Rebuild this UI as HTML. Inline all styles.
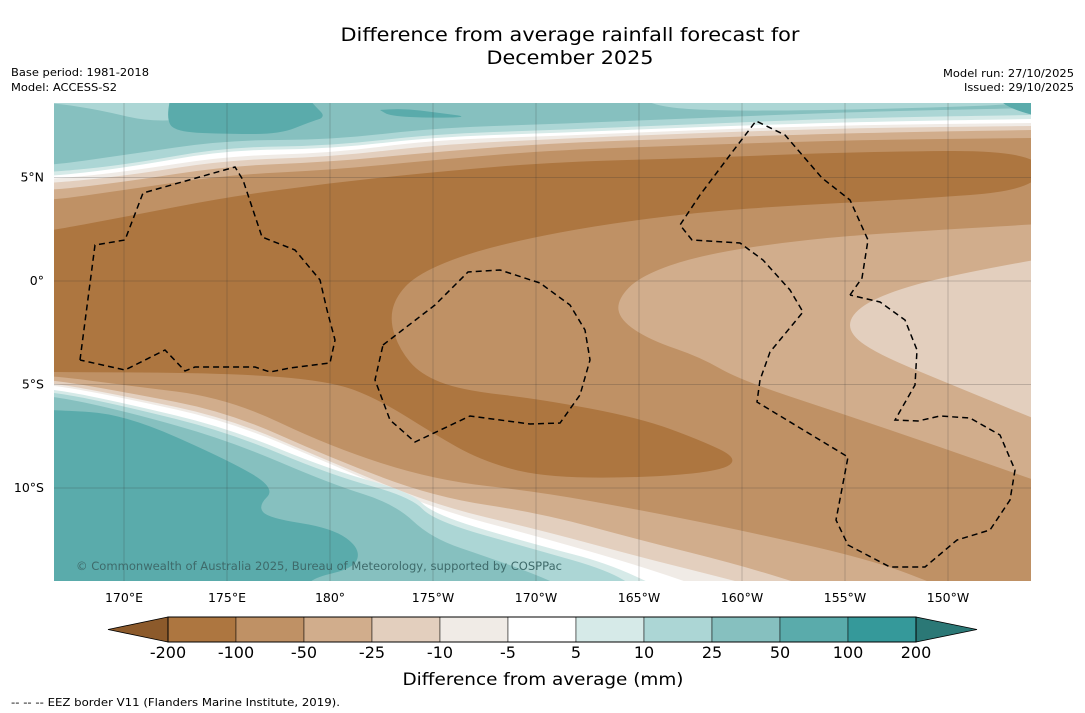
<!DOCTYPE html>
<html><head><meta charset="utf-8"><style>
html,body{margin:0;padding:0;background:#fff;}
body{width:1085px;height:713px;position:relative;overflow:hidden;font-family:"DejaVu Sans","Liberation Sans",sans-serif;}
svg text{font-family:"DejaVu Sans","Liberation Sans",sans-serif;}
</style></head><body>
<svg id="chart" width="1085" height="713" viewBox="0 0 1085 713" xmlns="http://www.w3.org/2000/svg" style="position:absolute;left:0;top:0">
<text x="570" y="41" font-size="19" text-anchor="middle" textLength="459" lengthAdjust="spacingAndGlyphs">Difference from average rainfall forecast for</text>
<text x="570" y="64" font-size="19" text-anchor="middle" textLength="167" lengthAdjust="spacingAndGlyphs">December 2025</text>
<text x="11" y="76" font-size="11" textLength="138" lengthAdjust="spacingAndGlyphs">Base period: 1981-2018</text>
<text x="11" y="91" font-size="11" textLength="106" lengthAdjust="spacingAndGlyphs">Model: ACCESS-S2</text>
<text x="1074" y="77" font-size="11" text-anchor="end" textLength="131" lengthAdjust="spacingAndGlyphs">Model run: 27/10/2025</text>
<text x="1074" y="91" font-size="11" text-anchor="end" textLength="110" lengthAdjust="spacingAndGlyphs">Issued: 29/10/2025</text>
<defs><clipPath id="mapclip"><rect x="54" y="103" width="977" height="478"/></clipPath></defs>
<g id="map" clip-path="url(#mapclip)"></g>
<g id="axes"></g>
<g id="cbar"></g>
<text x="543" y="685" font-size="17" text-anchor="middle" textLength="281" lengthAdjust="spacingAndGlyphs">Difference from average (mm)</text>
<text x="11" y="706" font-size="11" textLength="329" lengthAdjust="spacingAndGlyphs">--  --  -- EEZ border V11 (Flanders Marine Institute, 2019).</text>
</svg>
<script>
// colorbar data
const levelLabels = ["-200","-100","-50","-25","-10","-5","5","10","25","50","100","200"];
const levelColors = ["#ad7640","#bf9165","#d1ad8c","#e3cfbe","#f0ebe6","#ffffff","#d6eae8","#acd6d5","#86c0bf","#5aabab","#35999a"];
const extLow = "#8c5a2b", extHigh = "#2b7876";
// axes data
const lonTicks = [170,175,180,185,190,195,200,205,210];
const lonLabels = ["170°E","175°E","180°","175°W","170°W","165°W","160°W","155°W","150°W"];
const latTicks = [5,0,-5,-10];
const latLabels = ["5°N","0°","5°S","10°S"];

const NS="http://www.w3.org/2000/svg";
const X0=54,X1=1031,Y0=103,Y1=581;
function lonToX(l){return 124+(l-170)*20.6;}
function latToY(l){return 281-l*20.7;}
function mk(tag,attrs,parent){const e=document.createElementNS(NS,tag);for(const k in attrs)e.setAttribute(k,attrs[k]);parent.appendChild(e);return e;}
function smooth(pts){let d="M"+pts[0][0]+","+pts[0][1];for(let i=1;i<pts.length-1;i++){const mx=(pts[i][0]+pts[i+1][0])/2,my=(pts[i][1]+pts[i+1][1])/2;d+=" Q"+pts[i][0]+","+pts[i][1]+" "+mx+","+my;}const l=pts[pts.length-1];d+=" L"+l[0]+","+l[1];return d;}
const map=document.getElementById('map');
const xs=[54,124,227,331,434,554,700,850,1031];
function north(ys){return xs.map((x,i)=>[x,ys[i]]);}
function fillPath(d,color,name){const p=mk('path',{d:d,fill:color},map);return p;}
const base=mk('rect',{x:X0,y:Y0,width:977,height:478,fill:levelColors[1]},map);


const dark=[[40,232],[54,230],[124,217],[227,197],[331,183],[434,172],[554,162],[700,158],[850,152],[1040,150],[1040,190],[900,200],[800,205],[700,212],[600,225],[520,240],[460,256],[415,276],[395,298],[390,322],[400,350],[420,374],[460,390],[540,399],[640,418],[700,440],[738,458],[722,471],[640,478],[540,477],[480,460],[434,434],[380,400],[331,381],[228,373],[54,372],[40,372]];
fillPath(smooth(dark)+"Z",levelColors[0],'band-minus200-minus100');
const northBands=[
 [[200,190,175,170,160,150,145,140,138],levelColors[2]],
 [[190,182,166,162,152,143,138,133,130],levelColors[3]],
 [[183,176,160,157,145,139,133,128,126],levelColors[4]],
 [[179,172,156,153,140,136,130,125,123],levelColors[5]],
 [[176,168,150,149,137,133,127,122,119],levelColors[6]],
 [[172,165,147,146,134,130,124,118,115],levelColors[7]],
 [[165,155,140,140,128,124,118,112,108],levelColors[8]]];
northBands.forEach((b,i)=>{const pts=north(b[0]);pts.unshift([40,b[0][0]]);pts.push([1040,b[0][8]]);fillPath(smooth(pts)+" L1040,90 L40,90Z",b[1],'north-band-'+i);});
fillPath(smooth([[40,103],[54,103],[100,110],[150,122],[200,118],[245,106],[250,95],[40,95]])+"Z",levelColors[7],'north-light-strip-west');
fillPath(smooth([[640,95],[645,104],[700,111],[850,110],[1040,104],[1040,95]])+"Z",levelColors[7],'north-light-strip-east');
fillPath(smooth([[170,100],[166,118],[175,132],[230,134],[280,134],[310,122],[326,117],[315,106],[310,100]])+"Z",levelColors[9],'teal-blob-north');
fillPath(smooth([[380,110],[400,108],[440,113],[470,117],[430,118],[390,116],[380,110]])+"Z",levelColors[9],'teal-blob-small');
fillPath(smooth([[1000,100],[1005,106],[1031,115],[1040,115],[1040,100]])+"Z",levelColors[9],'teal-blob-east');
fillPath(smooth([[1040,224],[900,232],[800,240],[700,255],[640,276],[617,300],[620,320],[650,340],[700,357],[740,380],[840,413],[940,447],[1040,482]])+"Z",levelColors[2],'lobe-minus50-minus25');
fillPath(smooth([[1040,259],[950,275],[880,295],[850,315],[850,335],[880,355],[940,380],[1040,421]])+"Z",levelColors[3],'lobe-minus25-minus10');
const southBands=[
 [[[40,376],[54,376],[124,385],[228,398],[331,447],[434,480],[540,492],[640,510],[740,530],[873,560],[950,590]],levelColors[2]],
 [[[40,380],[54,380],[124,392],[228,412],[331,458],[434,497],[540,513],[640,540],[740,565],[820,590]],levelColors[3]],
 [[[40,383],[54,383],[124,396],[228,418],[331,462],[434,505],[540,530],[640,557],[700,572],[770,590]],levelColors[4]],
 [[[40,385],[54,385],[124,398],[228,421],[331,464],[434,509],[540,537],[640,566],[710,590]],levelColors[5]],
 [[[40,389],[54,389],[124,403],[228,428],[331,470],[411,492],[434,515],[537,545],[607,563],[665,590]],levelColors[6]],
 [[[40,392],[54,392],[124,406],[228,432],[331,475],[411,497],[434,521],[537,550],[607,570],[640,590]],levelColors[7]],
 [[[40,396],[54,396],[124,411],[228,440],[331,484],[395,504],[431,538],[490,558],[537,575],[570,590]],levelColors[8]],
 [[[40,410],[54,410],[124,414],[228,460],[276,488],[258,506],[268,518],[332,528],[360,548],[355,568],[312,578],[305,590]],levelColors[9]]];
southBands.forEach((b,i)=>{fillPath(smooth(b[0])+" L40,590Z",b[1],'south-band-'+i);});
lonTicks.forEach(l=>{const g=mk('line',{x1:lonToX(l),x2:lonToX(l),y1:Y0,y2:Y1,stroke:'#333','stroke-width':0.5,'stroke-opacity':0.45},map);

});
latTicks.forEach(l=>{const g=mk('line',{x1:X0,x2:X1,y1:latToY(l),y2:latToY(l),stroke:'#333','stroke-width':0.5,'stroke-opacity':0.45},map);

});
const eez=[
 [[80,360],[95,245],[125,240],[143,193],[235,167],[243,180],[262,237],[295,250],[320,280],[327,310],[335,340],[330,363],[290,368],[270,372],[255,367],[195,367],[185,371],[165,350],[125,370],[80,360]],
 [[383,345],[435,305],[468,272],[500,270],[540,283],[570,305],[585,330],[590,360],[580,395],[560,423],[530,424],[470,416],[415,442],[390,420],[375,380],[383,345]],
 [[850,295],[862,278],[868,240],[850,200],[822,178],[785,135],[756,121],[730,155],[700,195],[680,225],[692,240],[740,243],[763,260],[790,290],[803,312],[770,352],[760,380],[757,402],[848,457],[836,520],[848,545],[890,567],[925,567],[957,540],[990,530],[1010,500],[1015,470],[1000,435],[970,418],[940,416],[918,421],[895,420],[915,385],[917,350],[905,320],[880,302],[850,295]]];
eez.forEach((p,i)=>{const e=mk('polyline',{points:p.map(q=>q.join(',')).join(' '),fill:'none',stroke:'#000','stroke-width':1.5,'stroke-dasharray':'6,4'},map);

});
const cr=mk('text',{x:76,y:570,'font-size':11.5,fill:'#3e6a6a',textLength:486,lengthAdjust:'spacingAndGlyphs'},map);cr.textContent="© Commonwealth of Australia 2025, Bureau of Meteorology, supported by COSPPac";


const axes=document.getElementById('axes');
lonTicks.forEach((l,i)=>{const t=mk('text',{x:lonToX(l),y:602,'font-size':12.5,'text-anchor':'middle'},axes);t.textContent=lonLabels[i];

});
latTicks.forEach((l,i)=>{const t=mk('text',{x:44,y:latToY(l)+4,'font-size':12.5,'text-anchor':'end'},axes);t.textContent=latLabels[i];

});
const cb=document.getElementById('cbar');
const cbX0=168,cbW=68,cbY=617,cbH=25;
levelColors.forEach((c,i)=>{const r=mk('rect',{x:cbX0+i*cbW,y:cbY,width:cbW,height:cbH,fill:c,stroke:'#000','stroke-width':0.5},cb);

});
const n=levelColors.length,xe=cbX0+n*cbW;
const tl=mk('polygon',{points:`${cbX0},${cbY} ${cbX0},${cbY+cbH} 108,${cbY+cbH/2}`,fill:extLow,stroke:'#000','stroke-width':0.8},cb);


const tr=mk('polygon',{points:`${xe},${cbY} ${xe},${cbY+cbH} 977,${cbY+cbH/2}`,fill:extHigh,stroke:'#000','stroke-width':0.8},cb);


mk('rect',{x:cbX0,y:cbY,width:n*cbW,height:cbH,fill:'none',stroke:'#000','stroke-width':1},cb);
levelLabels.forEach((s,i)=>{const t=mk('text',{x:cbX0+i*cbW,y:658,'font-size':16,'text-anchor':'middle'},cb);t.textContent=s;

});
</script>
</body></html>
